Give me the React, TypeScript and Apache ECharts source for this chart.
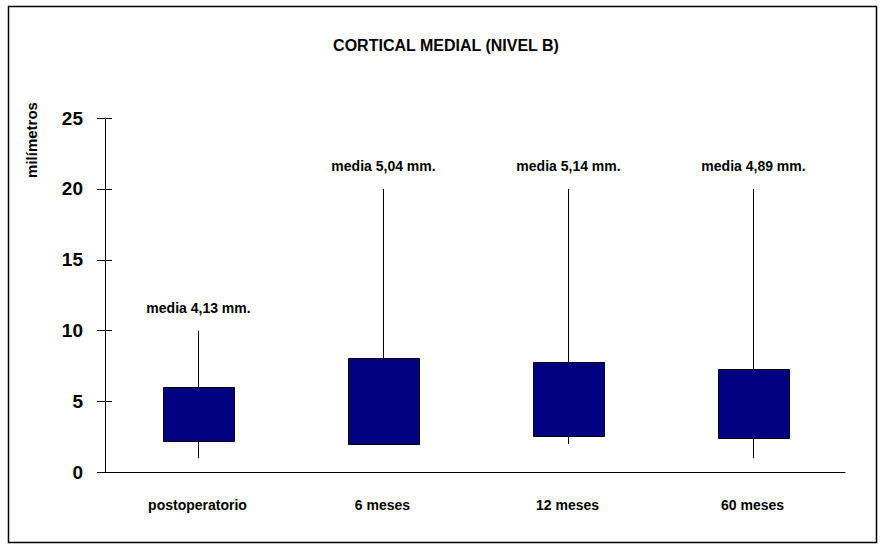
import React, { useEffect, useRef } from "react";
import * as echarts from "echarts";

const categories = ["postoperatorio", "6 meses", "12 meses", "60 meses"];
const minValues = [1.0, 1.95, 2.0, 1.0];
const q1Values = [2.27, 2.06, 2.6, 2.48];
const q3Values = [6.05, 8.1, 7.81, 7.32];
const maxValues = [10, 20, 20, 20];
const meanValues = [4.13, 5.04, 5.14, 4.89];
const yTicks = [0, 5, 10, 15, 20, 25];

const FONT = '"Liberation Sans", Arial, sans-serif';

export default function App() {
  const ref = useRef<HTMLDivElement>(null);
  useEffect(() => {
    if (!ref.current) return;
    const chart = echarts.init(ref.current, undefined, { renderer: "svg" });
    const data = categories.map((_, i) => [
      i,
      minValues[i],
      q1Values[i],
      q3Values[i],
      maxValues[i],
      meanValues[i],
    ]);
    const yMax = yTicks[yTicks.length - 1];
    const yInterval = yTicks[1] - yTicks[0];
    chart.setOption({
      animation: false,
      backgroundColor: "#ffffff",
      title: {
        text: "CORTICAL MEDIAL (NIVEL B)",
        left: 441,
        textAlign: "center",
        top: 32,
        textStyle: {
          fontFamily: FONT,
          fontSize: 16,
          fontWeight: "bold",
          color: "#000",
        },
      },
      graphic: [
        {
          type: "rect",
          shape: { x: 8.5, y: 6.5, width: 868, height: 536 },
          style: { fill: "none", stroke: "#000", lineWidth: 1.5 },
          silent: true,
        },
        {
          type: "text",
          x: 31,
          y: 140,
          rotation: Math.PI / 2,
          style: {
            text: "milímetros",
            align: "center",
            verticalAlign: "middle",
            font: `bold 15px ${FONT}`,
            fill: "#000",
          },
        },
      ],
      grid: { left: 105, right: 40, top: 118, bottom: 78.5, containLabel: false },
      xAxis: {
        type: "category",
        data: categories,
        boundaryGap: true,
        axisLine: { lineStyle: { color: "#000", width: 1 } },
        axisTick: { show: false },
        axisLabel: {
          margin: 25,
          fontFamily: FONT,
          fontSize: 14,
          fontWeight: "bold",
          color: "#000",
        },
        splitLine: { show: false },
      },
      yAxis: [
        {
          type: "value",
          min: 0,
          max: yMax,
          interval: yInterval,
          axisLine: { show: true, lineStyle: { color: "#000", width: 1 } },
          axisTick: { show: true, inside: false, length: 8, lineStyle: { color: "#000" } },
          axisLabel: {
            margin: 22,
            fontFamily: FONT,
            fontSize: 19,
            fontWeight: "bold",
            color: "#000",
          },
          splitLine: { show: false },
        },
        {
          type: "value",
          position: "left",
          min: 0,
          max: yMax,
          interval: yInterval,
          axisLine: { show: false },
          axisTick: { show: true, inside: true, length: 7, lineStyle: { color: "#000" } },
          axisLabel: { show: false },
          splitLine: { show: false },
        },
      ],
      series: [
        {
          type: "custom",
          yAxisIndex: 0,
          encode: { x: 0, y: [1, 2, 3, 4] },
          data,
          renderItem: (params: any, api: any) => {
            const x = api.value(0);
            const pMin = api.coord([x, api.value(1)]);
            const pQ1 = api.coord([x, api.value(2)]);
            const pQ3 = api.coord([x, api.value(3)]);
            const pMax = api.coord([x, api.value(4)]);
            const mean = api.value(5);
            const band = api.size([1, 0])[0];
            const w = band * 0.385;
            const cx = Math.round(pMin[0]) + 0.5;
            const label = "media " + mean.toFixed(2).replace(".", ",") + " mm.";
            return {
              type: "group",
              children: [
                {
                  type: "line",
                  shape: { x1: cx, y1: pMin[1], x2: cx, y2: pMax[1] },
                  style: { stroke: "#000", lineWidth: 1 },
                },
                {
                  type: "rect",
                  shape: {
                    x: Math.round(cx - w / 2) + 0.5,
                    y: Math.round(pQ3[1]) + 0.5,
                    width: Math.round(w),
                    height: Math.round(pQ1[1] - pQ3[1]),
                  },
                  style: { fill: "#000080", stroke: "#000", lineWidth: 1 },
                },
                {
                  type: "text",
                  x: cx,
                  y: pMax[1] - 23,
                  style: {
                    text: label,
                    align: "center",
                    verticalAlign: "middle",
                    font: `bold 14px ${FONT}`,
                    fill: "#000",
                  },
                },
              ],
            };
          },
        },
      ],
    });
    return () => chart.dispose();
  }, []);
  return (
    <div
      ref={ref}
      style={{ position: "fixed", left: 0, top: 0, width: 885, height: 551 }}
    />
  );
}
